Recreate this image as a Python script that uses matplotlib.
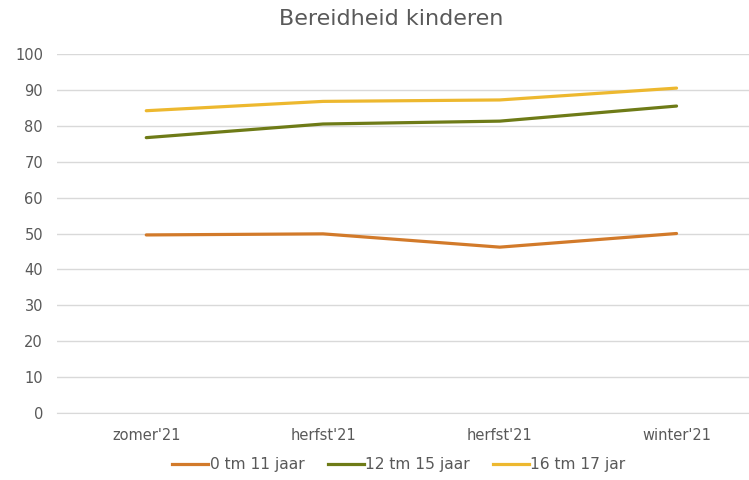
import matplotlib
matplotlib.use("Agg")
import matplotlib.pyplot as plt
from matplotlib.lines import Line2D

# data
seizoenen = ["zomer'21", "herfst'21", "herfst'21", "winter'21"]
kind_0_11 = [49.6, 49.9, 46.2, 50.0]
kind_12_15 = [76.7, 80.5, 81.3, 85.5]
kind_16_17 = [84.2, 86.8, 87.2, 90.5]
reeks_namen = ["0 tm 11 jaar", "12 tm 15 jaar", "16 tm 17 jar"]
y_ticks = list(range(0, 101, 10))

kleuren = ["#D27A2A", "#6E7B17", "#EDB82F"]
tekst_grijs = "#595959"
grid_grijs = "#D9D9D9"

fig = plt.figure(figsize=(7.49, 4.80), dpi=100)
ax = fig.add_axes([57 / 749, 1 - 413 / 480, 1 - 57 / 749, (413 - 54) / 480])

x = list(range(len(seizoenen)))
for waarden, kleur, naam in zip([kind_0_11, kind_12_15, kind_16_17], kleuren, reeks_namen):
    ax.plot(x, waarden, color=kleur, lw=2.3, solid_capstyle="round", label=naam)

ax.set_ylim(0, 100)
ax.set_xlim(-0.505, 3.41)
ax.set_yticks(y_ticks)
ax.set_xticks(x)
ax.set_xticklabels(seizoenen)
ax.yaxis.grid(True, color=grid_grijs, lw=1)
ax.set_axisbelow(True)
for s in ["top", "right", "left"]:
    ax.spines[s].set_visible(False)
ax.spines["bottom"].set_color(grid_grijs)
ax.tick_params(axis="both", length=0, colors=tekst_grijs, labelsize=10.5)
ax.tick_params(axis="x", pad=11)
ax.tick_params(axis="y", pad=10)
for lab in ax.get_xticklabels() + ax.get_yticklabels():
    lab.set_family(["Liberation Sans Narrow", "DejaVu Sans"])

fig.text(391 / 749, 1 - 19 / 480, "Bereidheid kinderen", ha="center", va="center",
         fontsize=16, color=tekst_grijs, family="DejaVu Sans")

handles = [Line2D([], [], color=k, lw=2.3) for k in kleuren]
fig.legend(handles, reeks_namen, loc="center", bbox_to_anchor=(399 / 749, 1 - 465 / 480),
           ncol=3, frameon=False, fontsize=11.2, handlelength=2.3, handletextpad=0.1,
           columnspacing=1.5, labelcolor=tekst_grijs)

fig.savefig("out.png", dpi=100)
